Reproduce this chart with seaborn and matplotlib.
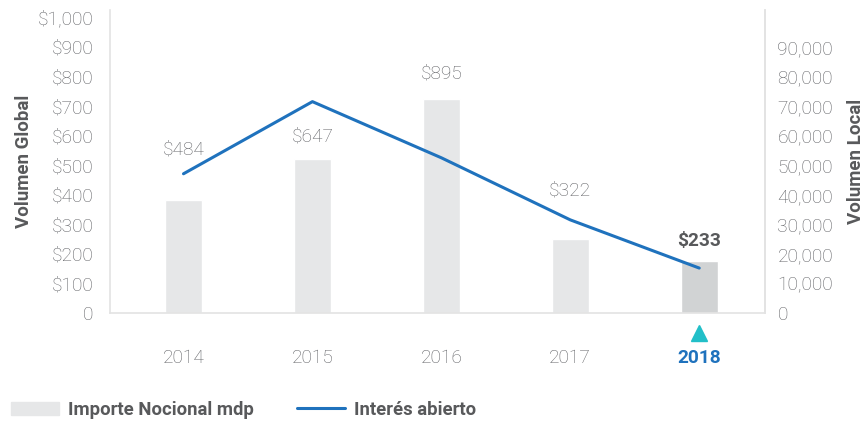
import matplotlib
matplotlib.use("Agg")
import matplotlib.pyplot as plt
import matplotlib.patches as mpatches
import matplotlib.lines as mlines
import matplotlib.transforms as mtransforms
import seaborn as sns
import pandas as pd

# ---- data ----
years = ["2014", "2015", "2016", "2017", "2018"]
notional_bars = [383, 522, 725, 251, 176]          # bar heights (left axis scale)
notional_labels = ["$484", "$647", "$895", "$322", "$233"]
open_interest = [47100, 71500, 52500, 31500, 15200]  # line (right axis)
highlight_year = "2018"
label_offsets = [170, 75, 85, 163, 68]               # text offset above bar, left-axis units

left_ticks = [0, 100, 200, 300, 400, 500, 600, 700, 800, 900, 1000]
left_ticklabels = ["0", "$100", "$200", "$300", "$400", "$500", "$600",
                   "$700", "$800", "$900", "$1,000"]
right_ticks = [0, 10000, 20000, 30000, 40000, 50000, 60000, 70000, 80000, 90000]
right_ticklabels = ["0", "10,000", "20,000", "30,000", "40,000", "50,000",
                    "60,000", "70,000", "80,000", "90,000"]

sns.set_theme(style="white")
plt.rcParams["font.family"] = ["Roboto", "DejaVu Sans"]

BAR = "#e6e7e8"
BAR_HL = "#d1d3d4"
LINE = "#1f72bd"
TICK = "#5f6064"
DARK = "#58595b"
SPINE = "#e3e3e3"
TEAL = "#22bfc8"
FS = 13.8

df = pd.DataFrame({"year": years, "bar": notional_bars, "line": open_interest})
palette = {y: (BAR_HL if y == highlight_year else BAR) for y in years}

fig = plt.figure(figsize=(8.66, 4.21), dpi=100)
ax = fig.add_axes([110 / 866, 1 - 313 / 421, (765 - 110) / 866, 303 / 421])

sns.barplot(data=df, x="year", y="bar", hue="year", palette=palette,
            legend=False, width=0.29, ax=ax, saturation=1)
ax.set_xlim(-0.57, 4.51)
ax.set_ylim(0, 1025)
ax.set_yticks(left_ticks)
ax.set_yticklabels(left_ticklabels)
ax.set_xlabel("")
ax.set_ylabel("Volumen Global", fontsize=13.5, fontweight="bold", color=DARK, labelpad=3)
ax.tick_params(axis="y", length=0, pad=12, labelsize=FS, labelcolor=TICK)
ax.tick_params(axis="x", length=0, pad=26, labelsize=FS, labelcolor=TICK)
for lbl in ax.get_yticklabels() + ax.get_xticklabels():
    lbl.set_fontweight("light")
for lbl in ax.get_xticklabels():
    if lbl.get_text() == highlight_year:
        lbl.set_fontweight("bold")
        lbl.set_color(LINE)

for s in ["top"]:
    ax.spines[s].set_visible(False)
for s in ["left", "bottom", "right"]:
    ax.spines[s].set_color(SPINE)
    ax.spines[s].set_linewidth(1.2)

# data labels
for i, (h, txt, off) in enumerate(zip(notional_bars, notional_labels, label_offsets)):
    hl = years[i] == highlight_year
    ax.text(i, h + off, txt, ha="center", va="center", fontsize=FS,
            color=DARK if hl else TICK, fontweight="bold" if hl else "light")

# line on right axis
ax2 = ax.twinx()
sns.lineplot(x=list(range(len(years))), y=open_interest, ax=ax2, color=LINE, linewidth=2.2)
ax2.set_ylim(0, 102500)
ax2.set_yticks(right_ticks)
ax2.set_yticklabels(right_ticklabels)
ax2.set_ylabel("Volumen Local", fontsize=13.5, fontweight="bold", color=DARK, labelpad=10)
ax2.tick_params(axis="y", length=0, pad=9, labelsize=FS, labelcolor=TICK)
for lbl in ax2.get_yticklabels():
    lbl.set_fontweight("light")
for s in ["top", "left", "bottom"]:
    ax2.spines[s].set_visible(False)
ax2.spines["right"].set_color(SPINE)
ax2.spines["right"].set_linewidth(1.2)

# highlight marker under axis
trans = mtransforms.blended_transform_factory(ax.transData, ax.transAxes)
ax.plot([years.index(highlight_year)], [-20 / 303], marker="^", markersize=11,
        color=TEAL, transform=trans, clip_on=False, linestyle="none")

# legend
h1 = mpatches.Patch(color=BAR, label="Importe Nocional mdp")
h2 = mlines.Line2D([], [], color=LINE, linewidth=2.2, label="Interés abierto")
leg = fig.legend(handles=[h1, h2], loc="center left",
                 bbox_to_anchor=(0.0065, 1 - 410 / 421), ncol=2, frameon=False,
                 handlelength=2.6, handleheight=0.75, columnspacing=2.3, handletextpad=0.5,
                 borderaxespad=0, borderpad=0.3,
                 prop={"size": 13.3, "weight": "bold"})
for t in leg.get_texts():
    t.set_color(DARK)

fig.savefig("out.png", dpi=100)
